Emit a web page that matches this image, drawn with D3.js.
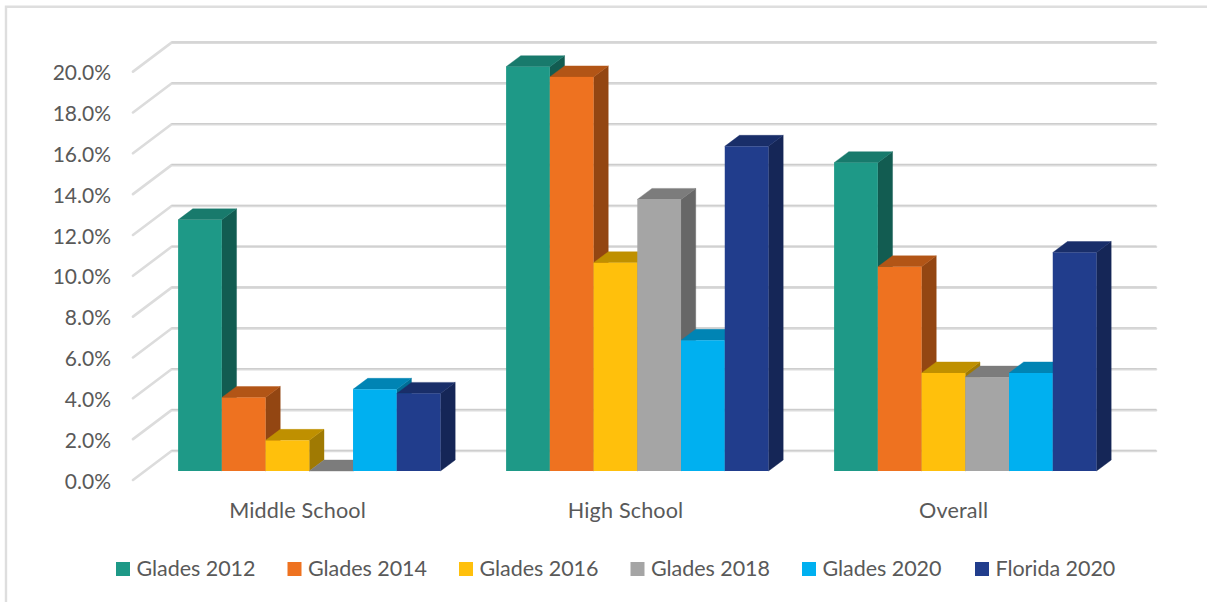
<!DOCTYPE html>
<html><head><meta charset="utf-8">
<script src="https://cdn.jsdelivr.net/npm/d3@7/dist/d3.min.js"></script>
<style>html,body{margin:0;padding:0;background:#fff}svg{display:block}text{font-family:Lato,"Open Sans",sans-serif;fill:#595959}</style>
</head><body><svg id="c" width="1207" height="602"></svg>
<script>
const categories = ["Middle School", "High School", "Overall"];
const seriesNames = ["Glades 2012", "Glades 2014", "Glades 2016", "Glades 2018", "Glades 2020", "Florida 2020"];
const glades2012 = [12.3, 19.8, 15.1];
const glades2014 = [3.6, 19.3, 10.0];
const glades2016 = [1.5, 10.2, 4.8];
const glades2018 = [0.0, 13.3, 4.6];
const glades2020 = [4.0, 6.4, 4.8];
const florida2020 = [3.8, 15.9, 10.7];
const tickValues = [0, 2, 4, 6, 8, 10, 12, 14, 16, 18, 20];
const frontColors = ["#1E9987", "#EE7220", "#FFC00C", "#A5A5A5", "#00B0F0", "#213D8C"];
const topColors = ["#187A6C", "#B25516", "#BF9000", "#7C7C7C", "#0084B4", "#192E69"];
const sideColors = ["#125C51", "#934612", "#A07A03", "#676767", "#006E96", "#152657"];

const allValues = [glades2012, glades2014, glades2016, glades2018, glades2020, florida2020];
const svg = d3.select("#c");

// frame: open at the bottom and on the right
svg.append("path").attr("d", "M1207,6.7H6V602").attr("fill", "none").attr("stroke", "#DEDEDE").attr("stroke-width", 2.4);

// scales: h gives height on a plane, x gives the bar plane
const h = d3.scaleLinear().domain([0, 20]).range([0, 408.4]);
const x0 = d3.scaleBand().domain(categories).range([145.3, 1129.3]);
const groupPad = (x0.bandwidth() - 262.4) / 2;
const x1 = d3.scaleBand().domain(seriesNames).range([groupPad, x0.bandwidth() - groupPad]);

const backX = 171.5, backEnd = 1156, backY = 451;
const frontX = 133, frontY = 480;
const baseY = 471, depthX = 14.7, depthY = 11;

// gridlines and side ticks
const grid = svg.append("g");
tickValues.forEach(t => {
  const y = h(t);
  const pts = [[frontX, frontY - y], [backX, backY - y], [backEnd, backY - y]];
  const line = d3.line();
  grid.append("path").attr("d", line(pts)).attr("fill", "none").attr("stroke", "#DCDCDC").attr("stroke-width", 2.6).attr("stroke-linejoin", "round").attr("stroke-linecap", "round");
  grid.append("path").attr("d", line(pts.slice(1).map(p => [p[0], p[1] - 0.7]))).attr("fill", "none").attr("stroke", "#C4C4C4").attr("stroke-width", 0.7);
  svg.append("text").attr("x", 111).attr("y", frontY - y + 1.5).attr("dy", "0.34em").attr("text-anchor", "end")
    .attr("font-size", 21).text(t.toFixed(1) + "%");
});

// bars, painted left to right so later bars overlap earlier side faces
const bars = svg.append("g");
categories.forEach((c, ci) => {
  seriesNames.forEach((s, si) => {
    const v = allValues[si][ci];
    const x = x0(c) + x1(s), w = x1.bandwidth(), top = baseY - h(v);
    const g = bars.append("g");
    g.append("path").attr("fill", sideColors[si]).attr("stroke", sideColors[si]).attr("stroke-width", 0.4)
      .attr("d", d3.line()([[x + w, baseY], [x + w + depthX, baseY - depthY], [x + w + depthX, top - depthY], [x + w, top]]) + "Z");
    g.append("path").attr("fill", topColors[si]).attr("stroke", topColors[si]).attr("stroke-width", 0.4)
      .attr("d", d3.line()([[x, top], [x + depthX, top - depthY], [x + w + depthX, top - depthY], [x + w, top]]) + "Z");
    g.append("rect").attr("x", x).attr("y", top).attr("width", w).attr("height", h(v)).attr("fill", frontColors[si]);
  });
});

// category labels
categories.forEach(c => {
  svg.append("text").attr("x", x0(c) + x0.bandwidth() / 2 - 11.7).attr("y", 510.5).attr("dy", "0.34em")
    .attr("text-anchor", "middle").attr("font-size", 21.6).attr("letter-spacing", 0.15).text(c);
});

// legend
const legendX = d3.scaleOrdinal().domain(seriesNames).range([116, 287.5, 459, 630.5, 802, 975]);
seriesNames.forEach((s, i) => {
  svg.append("rect").attr("x", legendX(s)).attr("y", 562).attr("width", 14).attr("height", 14).attr("fill", frontColors[i]);
  svg.append("text").attr("x", legendX(s) + 20.5).attr("y", 568.5).attr("dy", "0.34em").attr("font-size", 21.5).attr("letter-spacing", -0.05).text(s);
});
</script></body></html>
